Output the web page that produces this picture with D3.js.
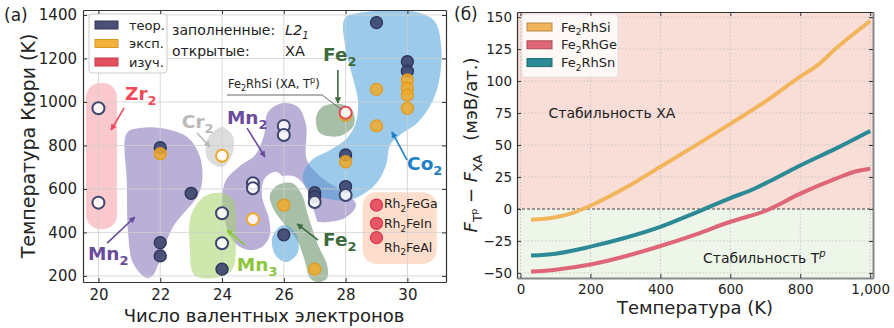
<!DOCTYPE html>
<html>
<head>
<meta charset="utf-8">
<script src="https://cdn.jsdelivr.net/npm/d3@7"></script>
<style>
  body { margin: 0; background: #fff; }
  text { font-family: "DejaVu Sans", sans-serif; fill: #222; }
</style>
</head>
<body>
<svg id="chart" width="894" height="328"></svg>
<script>
// ---------- panel (a): Curie temperature vs valence electrons ----------
const leftXTicks = [20, 22, 24, 26, 28, 30];
const leftYTicks = [200, 400, 600, 800, 1000, 1200, 1400];

// [electrons, Tc]
const theorFilled = [[22, 790], [22, 353], [22, 292], [23, 580], [24, 231], [26, 389],
  [27, 583], [27, 565], [28, 756], [28, 611], [29, 1365], [30, 1185], [30, 1142]];
const theorOpen = [[20, 971], [20, 537], [24, 488], [24, 350], [25, 626], [25, 603],
  [26, 890], [26, 848], [27, 540], [28, 572]];
const exptFilled = [[22, 762], [26, 526], [27, 231], [28, 940], [28, 725], [29, 1058],
  [29, 890], [30, 1101], [30, 1063], [30, 1032], [30, 971]];
const exptOpen = [[24, 753], [25, 461]];
const studiedOpen = [[28, 951]];
const studiedFilled = [[29, 526], [29, 442], [29, 376]];
const rhNames = ["Rh_2FeGa", "Rh_2FeIn", "Rh_2FeAl"];
const rhLabelT = [512, 420, 310];

// blob outlines, [electrons, Tc]
const mn2LeftBlob = [[20.92, 857], [21.35, 880], [22.0, 880], [22.87, 839], [23.29, 747], [23.35, 627],
  [23.19, 563], [22.41, 425], [21.99, 273], [21.77, 204], [21.57, 190], [21.12, 259], [20.96, 397], [20.92, 627]];
const mn2MidBlob = [[25.49, 954], [25.97, 995], [26.46, 977], [26.72, 894], [26.75, 733], [27.24, 650],
  [28.08, 572], [28.34, 526], [27.98, 466], [27.17, 448], [26.59, 476], [26.2, 595], [25.78, 678],
  [25.39, 650], [25.29, 572], [25.49, 480], [25.55, 388], [25.29, 333], [24.84, 319], [24.42, 351],
  [24.13, 434], [24.0, 549], [24.13, 641], [24.58, 706], [25.07, 756], [25.36, 848]];
const cr2Blob = [[24.0, 885], [24.36, 839], [24.32, 756], [24.0, 701], [23.55, 733], [23.51, 825]];
const mn3Blob = [[23.45, 567], [24.0, 581], [24.36, 549], [24.45, 365], [24.32, 227], [23.77, 190],
  [23.1, 204], [22.96, 319], [23.0, 480]];
const co2Blob = [[27.98, 1386], [28.63, 1414], [29.6, 1419], [30.41, 1409], [30.9, 1368], [31.09, 1262],
  [31.06, 1124], [30.83, 1009], [30.35, 908], [29.76, 848], [29.44, 802], [29.31, 710], [28.95, 618],
  [28.14, 549], [27.33, 558], [26.78, 595], [26.62, 664], [26.91, 733], [27.5, 779], [28.05, 834],
  [28.34, 908], [28.4, 1009], [28.21, 1124], [27.98, 1262]];
const co2SmallBlob = [[25.97, 434], [26.36, 402], [26.46, 310], [26.1, 264], [25.75, 292], [25.62, 374]];
const fe2LowBlob = [[25.81, 618], [26.27, 627], [26.59, 572], [26.78, 480], [27.11, 342], [27.4, 250],
  [27.4, 190], [27.11, 170], [26.85, 190], [26.69, 264], [26.43, 365], [26.04, 434], [25.68, 503], [25.55, 572]];
const fe2UpBlob = [[27.24, 977], [27.82, 991], [28.21, 963], [28.27, 894], [27.82, 844], [27.17, 857], [27.04, 926]];
const zr2Box = [[19.6, 415], [20.6, 1087]];
const rhBox = [[28.55, 255], [30.95, 585]];

// group labels: text, colour, label pos, arrow [x1,T1,x2,T2]
const groupLabels = [
  { t: "Zr_2", c: "#f04a5c", x: 20.86, T: 1009, a: [20.83, 972, 20.41, 871] },
  { t: "Cr_2", c: "#b9b9b9", x: 22.70, T: 880, a: [23.19, 857, 23.61, 793] },
  { t: "Mn_2", c: "#6a4c9c", x: 24.16, T: 899, a: [24.81, 880, 25.39, 747] },
  { t: "Mn_2", c: "#6a4c9c", x: 19.66, T: 273, a: [20.28, 351, 21.18, 471] },
  { t: "Mn_3", c: "#8cc63f", x: 24.48, T: 223, a: [24.74, 342, 24.16, 411] },
  { t: "Fe_2", c: "#3d6b3d", x: 27.27, T: 338, a: [27.11, 365, 26.43, 439] },
  { t: "Fe_2", c: "#3d6b3d", x: 27.27, T: 1188, a: [27.75, 1147, 27.75, 995] },
  { t: "Co_2", c: "#1b80c6", x: 29.99, T: 687, a: [29.99, 733, 29.5, 862] }
];

// ---------- panel (б): free energy difference ----------
const rightXTicks = [0, 200, 400, 600, 800, 1000];
const rightYTicks = [-50, -25, 0, 25, 50, 75, 100, 125, 150];
const fe2rhsi = [[30, -8.5], [100, -6.5], [150, -3], [200, 2.5], [300, 16.5], [400, 33], [500, 49.5],
  [600, 66.5], [700, 84], [800, 103.5], [850, 112.5], [900, 125], [1000, 147]];
const fe2rhge = [[30, -49], [100, -47.5], [200, -43.5], [300, -37], [400, -29], [500, -20], [600, -10],
  [700, -1.5], [800, 12], [900, 23.5], [960, 29.5], [1000, 31.5]];
const fe2rhsn = [[30, -36.5], [100, -35], [200, -29.5], [300, -22.5], [400, -14], [500, -3], [600, 8.5],
  [670, 16], [700, 20], [750, 27], [800, 34], [900, 47], [1000, 61]];
const seriesNames = ["Fe_2RhSi", "Fe_2RhGe", "Fe_2RhSn"];
const seriesColors = ["#f2b55c", "#de6677", "#2b8a95"];

const svg = d3.select("#chart");

// text with _x subscripts and ^x superscripts
function rich(sel, str, fs) {
  const segs = [];
  let i = 0;
  while (i < str.length) {
    const c = str[i];
    if (c === "_" || c === "^") {
      let s;
      if (str[i + 1] === "{") { const j = str.indexOf("}", i); s = str.slice(i + 2, j); i = j + 1; }
      else { s = str[i + 1]; i += 2; }
      segs.push({ t: s, m: c });
    } else {
      let j = i;
      while (j < str.length && str[j] !== "_" && str[j] !== "^") j++;
      segs.push({ t: str.slice(i, j), m: "" });
      i = j;
    }
  }
  let cur = 0;
  segs.forEach(s => {
    const off = s.m === "_" ? 0.28 * fs : s.m === "^" ? -0.4 * fs : 0;
    sel.append("tspan").attr("dy", off - cur).attr("font-size", s.m ? fs * 0.7 : fs).text(s.t);
    cur = off;
  });
  return sel;
}

// ================= LEFT PANEL =================
const xL = d3.scaleLinear().domain([19.5, 31.25]).range([83, 446]);
const yL = d3.scaleLinear().domain([172, 1423]).range([282, 10]);
const gL = svg.append("g");

const blobLine = d3.line().x(d => xL(d[0])).y(d => yL(d[1])).curve(d3.curveCatmullRomClosed.alpha(0.5));

function blob(pts, fill, op) {
  gL.append("path").attr("d", blobLine(pts)).attr("fill", fill).attr("fill-opacity", op);
}
function box(b, fill, op) {
  gL.append("rect")
    .attr("x", xL(b[0][0])).attr("width", xL(b[1][0]) - xL(b[0][0]))
    .attr("y", yL(b[1][1])).attr("height", yL(b[0][1]) - yL(b[1][1]))
    .attr("rx", 14).attr("fill", fill).attr("fill-opacity", op);
}

box(zr2Box, "#f8929b", 0.5);
blob(mn2LeftBlob, "#8b79bd", 0.6);
blob(mn2MidBlob, "#8b79bd", 0.6);
// white halo round the lower Fe2 region
gL.append("path").attr("d", blobLine(fe2LowBlob)).attr("fill", "#fff")
  .attr("stroke", "#fff").attr("stroke-width", 14).attr("stroke-linejoin", "round");
blob(fe2LowBlob, "#5f8a5f", 0.55);
blob(co2SmallBlob, "#4a9fd9", 0.55);
blob(co2Blob, "#4a9fd9", 0.55);
blob(fe2UpBlob, "#5f8a5f", 0.55);
blob(mn3Blob, "#a6d46a", 0.55);
blob(cr2Blob, "#bbbbbb", 0.5);
box(rhBox, "#fbc7a8", 0.6);

// grid
gL.append("g").selectAll("line").data(leftXTicks).join("line")
  .attr("x1", d => xL(d)).attr("x2", d => xL(d)).attr("y1", yL.range()[0]).attr("y2", yL.range()[1])
  .attr("stroke", "#cfcfcf").attr("stroke-opacity", 0.8);
gL.append("g").selectAll("line").data(leftYTicks).join("line")
  .attr("y1", d => yL(d)).attr("y2", d => yL(d)).attr("x1", xL.range()[0]).attr("x2", xL.range()[1])
  .attr("stroke", "#cfcfcf").attr("stroke-opacity", 0.8);

// points
function dots(data, fill, stroke, sw, op) {
  gL.append("g").selectAll("circle").data(data).join("circle")
    .attr("cx", d => xL(d[0])).attr("cy", d => yL(d[1])).attr("r", 6)
    .attr("fill", fill).attr("fill-opacity", op).attr("stroke", stroke).attr("stroke-width", sw);
}
dots(theorFilled, "#3e4670", "#2c3358", 1.3, 0.92);
dots(theorOpen, "#ffffff", "#3e4670", 2, 0.85);
dots(exptFilled, "#f0aa2a", "#e39a1e", 1.3, 0.85);
dots(exptOpen, "#ffffff", "#f0aa2a", 2, 0.85);
dots(studiedFilled, "#e5485a", "#d93a4c", 1.3, 0.9);
dots(studiedOpen, "#ffffff", "#e5485a", 2, 0.9);

rhNames.forEach((n, i) => {
  rich(gL.append("text").attr("x", xL(29.24)).attr("y", yL(rhLabelT[i])), n, 12.5);
});

// arrows + group labels
const defs = svg.append("defs");
groupLabels.forEach((g, i) => {
  defs.append("marker").attr("id", "ah" + i).attr("viewBox", "0 0 10 10").attr("refX", 9).attr("refY", 5)
    .attr("markerWidth", 4).attr("markerHeight", 4).attr("orient", "auto")
    .append("path").attr("d", "M0,0 L10,5 L0,10 z").attr("fill", g.c);
  gL.append("line")
    .attr("x1", xL(g.a[0])).attr("y1", yL(g.a[1])).attr("x2", xL(g.a[2])).attr("y2", yL(g.a[3]))
    .attr("stroke", g.c).attr("stroke-width", 1.6).attr("marker-end", `url(#ah${i})`);
  rich(gL.append("text").attr("x", xL(g.x)).attr("y", yL(g.T)).attr("font-weight", "bold")
    .style("fill", g.c), g.t, 18.5).selectAll("tspan").style("fill", g.c);
});

// Fe2RhSi annotation
rich(gL.append("text").attr("x", xL(24.19)).attr("y", yL(1064)).attr("font-size", 11.5), "Fe_2RhSi (XA, T^p)", 11.5);
gL.append("path")
  .attr("d", d3.line().x(d => xL(d[0])).y(d => yL(d[1]))([[24.16, 1032], [27.24, 1032], [27.88, 963]]))
  .attr("fill", "none").attr("stroke", "#666").attr("stroke-width", 1);

// legend
const legL = gL.append("g");
legL.append("rect").attr("x", 89).attr("y", 14).attr("width", 78).attr("height", 59).attr("rx", 3)
  .attr("fill", "#fff").attr("fill-opacity", 0.9).attr("stroke", "#ccc");
[["теор.", "#4a5075", "#30365a"], ["эксп.", "#f2b33d", "#d99a25"], ["изуч.", "#e5505f", "#c83a4a"]].forEach((e, i) => {
  const cy = 25 + i * 18.5;
  legL.append("rect").attr("x", 95).attr("y", cy - 4).attr("width", 23).attr("height", 8)
    .attr("fill", e[1]).attr("stroke", e[2]);
  legL.append("text").attr("x", 129).attr("y", cy + 4.5).attr("font-size", 13).text(e[0]);
});

const notes = gL.append("g").attr("font-size", 14);
notes.append("text").attr("x", 172).attr("y", 35).text("заполненные:");
rich(notes.append("text").attr("x", 285).attr("y", 35).attr("font-style", "italic"), "L2_1", 14.5);
notes.append("text").attr("x", 172).attr("y", 56).text("открытые:");
notes.append("text").attr("x", 285).attr("y", 56).attr("font-size", 14.5).text("XA");

// axes (inward ticks, all sides)
function frame(g, x, y, xt, yt, fs, pad, spineR) {
  const [x0, x1] = x.range(), [y0, y1] = y.range();
  const b = g.append("g").attr("transform", `translate(0,${y0})`)
    .call(d3.axisBottom(x).tickValues(xt).tickSizeInner(-4).tickSizeOuter(0).tickPadding(pad[0]));
  const l = g.append("g").attr("transform", `translate(${x0},0)`)
    .call(d3.axisLeft(y).tickValues(yt).tickSizeInner(-4).tickSizeOuter(0).tickPadding(pad[1])
      .tickFormat(d => d < 0 ? "\u2212" + Math.abs(d) : d));
  const t = g.append("g").attr("transform", `translate(0,${y1})`)
    .call(d3.axisTop(x).tickValues(xt).tickSizeInner(-4).tickSizeOuter(0).tickFormat(""));
  const r = g.append("g").attr("transform", `translate(${x1},0)`)
    .call(d3.axisRight(y).tickValues(yt).tickSizeInner(-4).tickSizeOuter(0).tickFormat(""));
  [b, l, t, r].forEach(a => {
    a.selectAll("text").attr("font-size", fs).attr("font-family", "DejaVu Sans").style("fill", "#222");
    a.selectAll("line").attr("stroke", "#333");
    a.select(".domain").attr("stroke", "#333").attr("stroke-width", 1.2);
  });
  if (spineR) [b, r].forEach(a => a.select(".domain").attr("stroke", "#888").attr("stroke-width", 2));
}
frame(gL, xL, yL, leftXTicks, leftYTicks, 15, [7, 6], false);

gL.append("text").attr("x", 264).attr("y", 322).attr("text-anchor", "middle").attr("font-size", 18)
  .text("Число валентных электронов");
gL.append("text").attr("transform", "translate(35,146) rotate(-90)").attr("text-anchor", "middle")
  .attr("font-size", 19).text("Температура Кюри (K)");
svg.append("text").attr("x", 4).attr("y", 21).attr("font-size", 17).text("(a)");

// ================= RIGHT PANEL =================
const xR = d3.scaleLinear().domain([-10, 1008]).range([517, 873]);
const yR = d3.scaleLinear().domain([-54, 154]).range([278, 12]);
const gR = svg.append("g");

gR.append("rect").attr("x", xR.range()[0]).attr("width", xR.range()[1] - xR.range()[0])
  .attr("y", yR(yR.domain()[1])).attr("height", yR(0) - yR(yR.domain()[1])).attr("fill", "#f9ddd7");
gR.append("rect").attr("x", xR.range()[0]).attr("width", xR.range()[1] - xR.range()[0])
  .attr("y", yR(0)).attr("height", yR(yR.domain()[0]) - yR(0)).attr("fill", "#eef6ea");

gR.append("g").selectAll("line").data(rightXTicks).join("line")
  .attr("x1", d => xR(d)).attr("x2", d => xR(d)).attr("y1", yR.range()[0]).attr("y2", yR.range()[1])
  .attr("stroke", "#c8c8c8").attr("stroke-dasharray", "1.5,2");
gR.append("g").selectAll("line").data(rightYTicks.filter(d => d !== 0)).join("line")
  .attr("y1", d => yR(d)).attr("y2", d => yR(d)).attr("x1", xR.range()[0]).attr("x2", xR.range()[1])
  .attr("stroke", "#c8c8c8").attr("stroke-dasharray", "1.5,2");
gR.append("line").attr("x1", xR.range()[0]).attr("x2", xR.range()[1]).attr("y1", yR(0)).attr("y2", yR(0))
  .attr("stroke", "#444").attr("stroke-dasharray", "3,2").attr("stroke-width", 1.1);

gR.append("text").attr("x", xR(80)).attr("y", yR(71)).attr("font-size", 14).text("Стабильность XA");
const tp = gR.append("text").attr("x", xR(522)).attr("y", yR(-42.3)).attr("font-size", 14);
tp.append("tspan").text("Стабильность T");
tp.append("tspan").attr("font-size", 10).attr("font-style", "italic").attr("dy", -6).text("p");

const fLine = d3.line().x(d => xR(d[0])).y(d => yR(d[1])).curve(d3.curveMonotoneX);
[fe2rhsi, fe2rhge, fe2rhsn].forEach((s, i) => {
  gR.append("path").attr("d", fLine(s)).attr("fill", "none").attr("stroke", seriesColors[i])
    .attr("stroke-width", 4).attr("stroke-linejoin", "round");
});

const legR = gR.append("g");
legR.append("rect").attr("x", 522).attr("y", 14).attr("width", 96).attr("height", 63).attr("rx", 3)
  .attr("fill", "#fff").attr("fill-opacity", 0.8).attr("stroke", "#e0e0e0");
seriesNames.forEach((n, i) => {
  const cy = 27 + i * 17.8;
  legR.append("rect").attr("x", 527).attr("y", cy - 4).attr("width", 25).attr("height", 8)
    .attr("fill", seriesColors[i]).attr("stroke", d3.color(seriesColors[i]).darker(0.8));
  rich(legR.append("text").attr("x", 561).attr("y", cy + 4.5), n, 13);
});

frame(gR, xR, yR, rightXTicks, rightYTicks, 13.5, [6, 5], true);

gR.append("text").attr("x", 695).attr("y", 314).attr("text-anchor", "middle").attr("font-size", 18)
  .text("Температура (K)");
const yl = gR.append("text").attr("transform", "translate(477,145) rotate(-90)")
  .attr("text-anchor", "middle").attr("font-size", 18);
yl.append("tspan").attr("font-style", "italic").text("F");
yl.append("tspan").attr("font-size", 12.5).attr("dy", 5).text("T");
yl.append("tspan").attr("font-size", 9).attr("dy", -5).text("p");
yl.append("tspan").attr("dy", 0).text(" \u2212 ");
yl.append("tspan").attr("font-style", "italic").text("F");
yl.append("tspan").attr("font-size", 12.5).attr("dy", 5).text("XA");
yl.append("tspan").attr("dy", -5).attr("dx", 14).text("(мэВ/ат.)");
svg.append("text").attr("x", 454).attr("y", 20).attr("font-size", 17).text("(б)");
</script>
</body>
</html>
